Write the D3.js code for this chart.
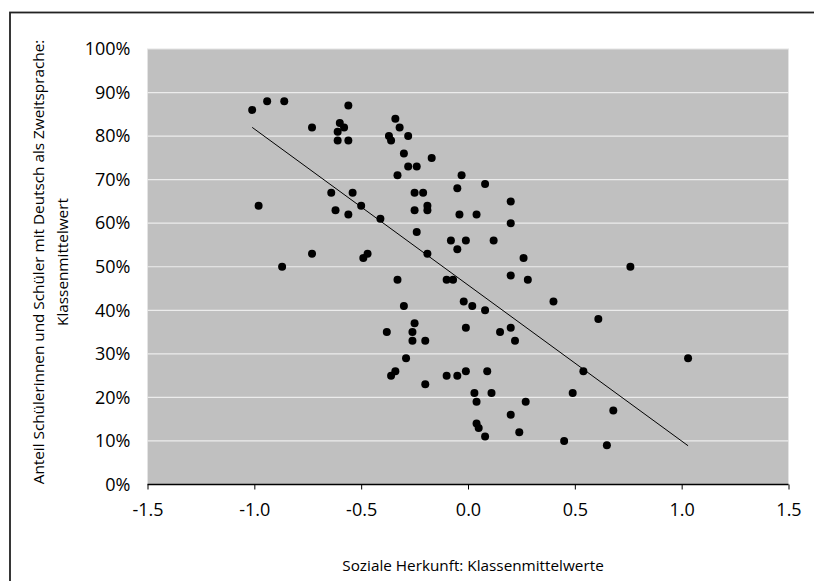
<!DOCTYPE html>
<html><head><meta charset="utf-8">
<script src="https://cdn.jsdelivr.net/npm/d3@7"></script>
<style>
html,body{margin:0;padding:0;background:#fff;}
svg{display:block;font-family:"Open Sans",sans-serif;}
</style></head>
<body>
<svg id="chart" width="814" height="581"></svg>
<script>
// Soziale Herkunft (x) vs. Anteil DaZ in % (y)
const xValues = [-1.01,-0.94,-0.86,-0.56,-0.73,-0.60,-0.58,-0.61,-0.61,-0.56,
 -0.34,-0.32,-0.37,-0.36,-0.28,-0.30,-0.17,-0.28,-0.24,-0.33,
 -0.03,-0.05,-0.64,-0.54,-0.98,-0.62,-0.56,-0.50,-0.25,-0.21,
 -0.25,-0.19,-0.19,-0.04,-0.41,-0.24,-0.08,-0.01,-0.05,-0.73,
 -0.47,-0.49,-0.19,-0.87,-0.33,-0.10,-0.07,0.08,0.20,0.04,
 0.20,0.12,0.26,0.76,0.20,0.28,0.40,-0.02,0.02,0.08,
 0.61,-0.01,0.20,0.15,0.22,1.03,-0.01,0.09,0.54,0.03,
 0.11,0.49,0.04,0.27,0.20,0.68,0.04,0.05,0.24,0.08,
 0.45,0.65,-0.30,-0.25,-0.38,-0.26,-0.26,-0.20,-0.29,-0.34,
 -0.36,-0.20,-0.10,-0.05];
const yValues = [86,88,88,87,82,83,82,81,79,79,
 84,82,80,79,80,76,75,73,73,71,
 71,68,67,67,64,63,62,64,67,67,
 63,64,63,62,61,58,56,56,54,53,
 53,52,53,50,47,47,47,69,65,62,
 60,56,52,50,48,47,42,42,41,40,
 38,36,36,35,33,29,26,26,26,21,
 21,21,19,19,16,17,14,13,12,11,
 10,9,41,37,35,35,33,33,29,26,
 25,23,25,25];
const trendX = [-1.01, 1.03];
const trendY = [82, 8.9];
const xTicks = [-1.5,-1.0,-0.5,0.0,0.5,1.0,1.5];
const yTicks = [0,10,20,30,40,50,60,70,80,90,100];
const xTitle = "Soziale Herkunft: Klassenmittelwerte";
const yTitle1 = "Anteil Schülerinnen und Schüler mit Deutsch als Zweitsprache:";
const yTitle2 = "Klassenmittelwert";

const svg = d3.select("#chart");
const L = 147.5, R = 788.5, T = 49, B = 484.5;
const x = d3.scaleLinear().domain([-1.5,1.5]).range([L,R]);
const y = d3.scaleLinear().domain([0,100]).range([B,T]);

// outer frame
svg.append("rect").attr("x",10).attr("y",12.5).attr("width",820).attr("height",600)
  .attr("fill","none").attr("stroke","#222").attr("stroke-width",1.8);

// plot area
svg.append("rect").attr("x",L).attr("y",T).attr("width",R-L).attr("height",B-T)
  .attr("fill","#c0c0c0").attr("stroke","#e4e4e4").attr("stroke-width",1);

// gridlines
svg.append("g").selectAll("line").data(yTicks.filter(d=>d>0&&d<100)).join("line")
  .attr("x1",L).attr("x2",R).attr("y1",d=>y(d)).attr("y2",d=>y(d))
  .attr("stroke","#ececec").attr("stroke-width",1.2);

// x axis
const xAxis = d3.axisBottom(x).tickValues(xTicks).tickSize(5).tickPadding(14)
  .tickFormat(d3.format(".1f"));
const gx = svg.append("g").attr("transform",`translate(0,${B})`).call(xAxis);
gx.select(".domain").attr("stroke","#000").attr("stroke-width",1.3).attr("d",`M${L},0H${R}`);
gx.selectAll(".tick line").attr("stroke","#000").attr("stroke-width",1);
gx.selectAll("text").attr("font-size",18).attr("fill","#000")
  .attr("font-family","'Open Sans',sans-serif").text(d=>d3.format(".1f")(d).replace("−","-"));

// y axis labels
const yAxis = d3.axisLeft(y).tickValues(yTicks).tickSize(0).tickPadding(17)
  .tickFormat(d=>d+"%");
const gy = svg.append("g").attr("transform",`translate(${L},0)`).call(yAxis);
gy.select(".domain").remove();
gy.selectAll("text").attr("font-size",18).attr("fill","#000")
  .attr("font-family","'Open Sans',sans-serif");

// trend line
svg.append("path")
  .attr("d", d3.line().x(d=>x(d[0])).y(d=>y(d[1]))(d3.zip(trendX,trendY)))
  .attr("stroke","#000").attr("stroke-width",1).attr("fill","none");

// points
svg.append("g").selectAll("circle").data(d3.zip(xValues,yValues)).join("circle")
  .attr("cx",d=>x(d[0])).attr("cy",d=>y(d[1])).attr("r",4).attr("fill","#000");

// titles
svg.append("text").attr("x",473).attr("y",567).attr("text-anchor","middle")
  .attr("dominant-baseline","middle").attr("font-size",15.3).attr("fill","#000").text(xTitle);
svg.append("text").attr("transform","translate(40,262) rotate(-90)").attr("text-anchor","middle")
  .attr("dominant-baseline","middle").attr("font-size",15.3).attr("fill","#000").text(yTitle1);
svg.append("text").attr("transform","translate(64,262) rotate(-90)").attr("text-anchor","middle")
  .attr("dominant-baseline","middle").attr("font-size",15.3).attr("fill","#000").text(yTitle2);
</script>
</body></html>
